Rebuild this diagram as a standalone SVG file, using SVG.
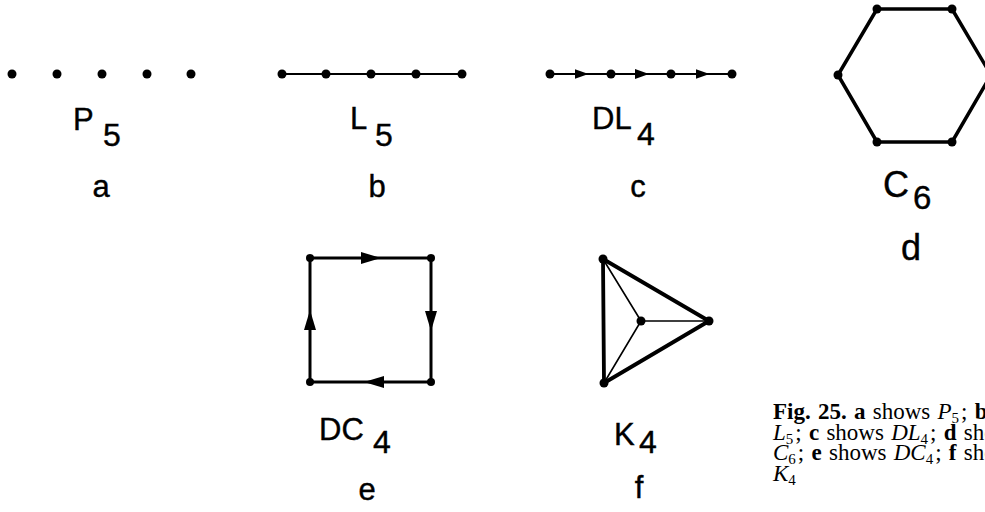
<svg xmlns="http://www.w3.org/2000/svg" width="985" height="512" viewBox="0 0 985 512">
<style>
  .v { fill: #000; }
  .e1 { stroke: #000; stroke-width: 2; fill: none; }
  .e3 { stroke: #000; stroke-width: 3; fill: none; stroke-linejoin: round; }
  .e4 { stroke: #000; stroke-width: 3.8; fill: none; stroke-linejoin: round; }
  .thin { stroke: #000; stroke-width: 1.6; fill: none; }
  .lbl { font-family: "Liberation Sans", Arial, sans-serif; font-size: 31px; fill: #000; stroke: #000; stroke-width: 0.4; }
  .sub { font-size: 32px; }
  .big { font-size: 36px; }
  .cap { font-family: "Liberation Serif", "Times New Roman", serif; font-size: 23px; fill: #000; word-spacing: 1.5px; }
  .b { font-weight: bold; }
  .i { font-style: italic; }
  .s { font-size: 15px; }
  .dl { marker-mid: url(#arrS); }
  .dc { marker-mid: url(#arrL); }
</style>
<defs>
  <marker id="arrS" markerUnits="userSpaceOnUse" markerWidth="14" markerHeight="10" refX="7" refY="5" orient="auto" viewBox="0 0 14 10">
    <path d="M0,0 L14,5 L0,10 z" fill="#000"/>
  </marker>
  <marker id="arrL" markerUnits="userSpaceOnUse" markerWidth="20" markerHeight="12" refX="10" refY="6" orient="auto" viewBox="0 0 20 12">
    <path d="M0,0 L20,6 L0,12 z" fill="#000"/>
  </marker>
</defs>

<g id="connectors">
  <path class="e1" d="M282,74 H462"/>
  <path class="e1 dl" d="M550,74 L581.5,74 L611,74"/>
  <path class="e1 dl" d="M611,74 L642,74 L671,74"/>
  <path class="e1 dl" d="M671,74 L702.5,74 L732,74"/>
  <path class="e3" d="M877,9 L952,9 L991,75 L952,142 L877,142 L838,75 Z" style="stroke-width:3.5"/>
  <path class="e3 dc" d="M310,258 L371,258 L431,258"/>
  <path class="e3 dc" d="M431,258 L431,321 L431,382"/>
  <path class="e3 dc" d="M431,382 L374,382 L310,382"/>
  <path class="e3 dc" d="M310,382 L310,320 L310,258"/>
  <path class="e4" d="M603,259 L709,321 L604,383 Z"/>
  <path class="thin" d="M603,259 L641,321 M604,383 L641,321 M641,321 L709,321"/>
</g>

<g id="fig-a">
  <circle class="v" cx="12" cy="74" r="4.5"/>
  <circle class="v" cx="57" cy="74" r="4.5"/>
  <circle class="v" cx="102" cy="74" r="4.5"/>
  <circle class="v" cx="147" cy="74" r="4.5"/>
  <circle class="v" cx="191" cy="74" r="4.5"/>
  <text class="lbl" x="73" y="130">P<tspan class="sub" x="103" y="146">5</tspan></text>
  <text class="lbl" x="101" y="197" text-anchor="middle">a</text>
</g>

<g id="fig-b">
  <circle class="v" cx="282" cy="74" r="4.5"/>
  <circle class="v" cx="326" cy="74" r="4.5"/>
  <circle class="v" cx="371" cy="74" r="4.5"/>
  <circle class="v" cx="416" cy="74" r="4.5"/>
  <circle class="v" cx="462" cy="74" r="4.5"/>
  <text class="lbl" x="350" y="129">L<tspan class="sub" x="375" y="146">5</tspan></text>
  <text class="lbl" x="377" y="197" text-anchor="middle">b</text>
</g>

<g id="fig-c">
  <circle class="v" cx="550" cy="74" r="4.5"/>
  <circle class="v" cx="611" cy="74" r="4.5"/>
  <circle class="v" cx="671" cy="74" r="4.5"/>
  <circle class="v" cx="732" cy="74" r="4.5"/>
  <text class="lbl" x="592" y="129">DL<tspan class="sub" x="637" y="145">4</tspan></text>
  <text class="lbl" x="638" y="197" text-anchor="middle">c</text>
</g>

<g id="fig-d">
  <circle class="v" cx="877" cy="9" r="4.5"/>
  <circle class="v" cx="952" cy="9" r="4.5"/>
  <circle class="v" cx="991" cy="75" r="4.5"/>
  <circle class="v" cx="952" cy="142" r="4.5"/>
  <circle class="v" cx="877" cy="142" r="4.5"/>
  <circle class="v" cx="838" cy="75" r="4.5"/>
  <text class="lbl big" x="883" y="197">C<tspan x="913" y="209" style="font-size:33px">6</tspan></text>
  <text class="lbl big" x="911" y="260" text-anchor="middle">d</text>
</g>

<g id="fig-e">
  <circle class="v" cx="310" cy="258" r="4"/>
  <circle class="v" cx="431" cy="258" r="4"/>
  <circle class="v" cx="431" cy="382" r="4"/>
  <circle class="v" cx="310" cy="382" r="4"/>
  <text class="lbl" x="319" y="440">DC<tspan class="sub" x="373" y="453">4</tspan></text>
  <text class="lbl" x="367" y="500" text-anchor="middle">e</text>
</g>

<g id="fig-f">
  <circle class="v" cx="603" cy="259" r="4.5"/>
  <circle class="v" cx="604" cy="383" r="4.5"/>
  <circle class="v" cx="709" cy="321" r="4.5"/>
  <circle class="v" cx="641" cy="321" r="4.5"/>
  <text class="lbl" x="614" y="445">K<tspan class="sub" x="639" y="453">4</tspan></text>
  <text class="lbl" x="639" y="498" text-anchor="middle">f</text>
</g>

<g id="caption">
  <text class="cap" x="773" y="419"><tspan class="b">Fig. 25. a</tspan> shows <tspan class="i">P</tspan><tspan class="s" dy="4">5</tspan><tspan dx="2" dy="-4">; </tspan><tspan class="b">b</tspan> shows</text>
  <text class="cap" x="773" y="439.5"><tspan class="i">L</tspan><tspan class="s" dy="4">5</tspan><tspan dx="2" dy="-4">; </tspan><tspan class="b">c</tspan> shows <tspan class="i">DL</tspan><tspan class="s" dy="4">4</tspan><tspan dx="2" dy="-4">; </tspan><tspan class="b">d</tspan> shows</text>
  <text class="cap" x="773" y="460"><tspan class="i">C</tspan><tspan class="s" dy="4">6</tspan><tspan dx="2" dy="-4">; </tspan><tspan class="b">e</tspan> shows <tspan class="i">DC</tspan><tspan class="s" dy="4">4</tspan><tspan dx="2" dy="-4">; </tspan><tspan class="b">f</tspan> shows</text>
  <text class="cap" x="773" y="480.5"><tspan class="i">K</tspan><tspan class="s" dy="4">4</tspan></text>
</g>
</svg>
